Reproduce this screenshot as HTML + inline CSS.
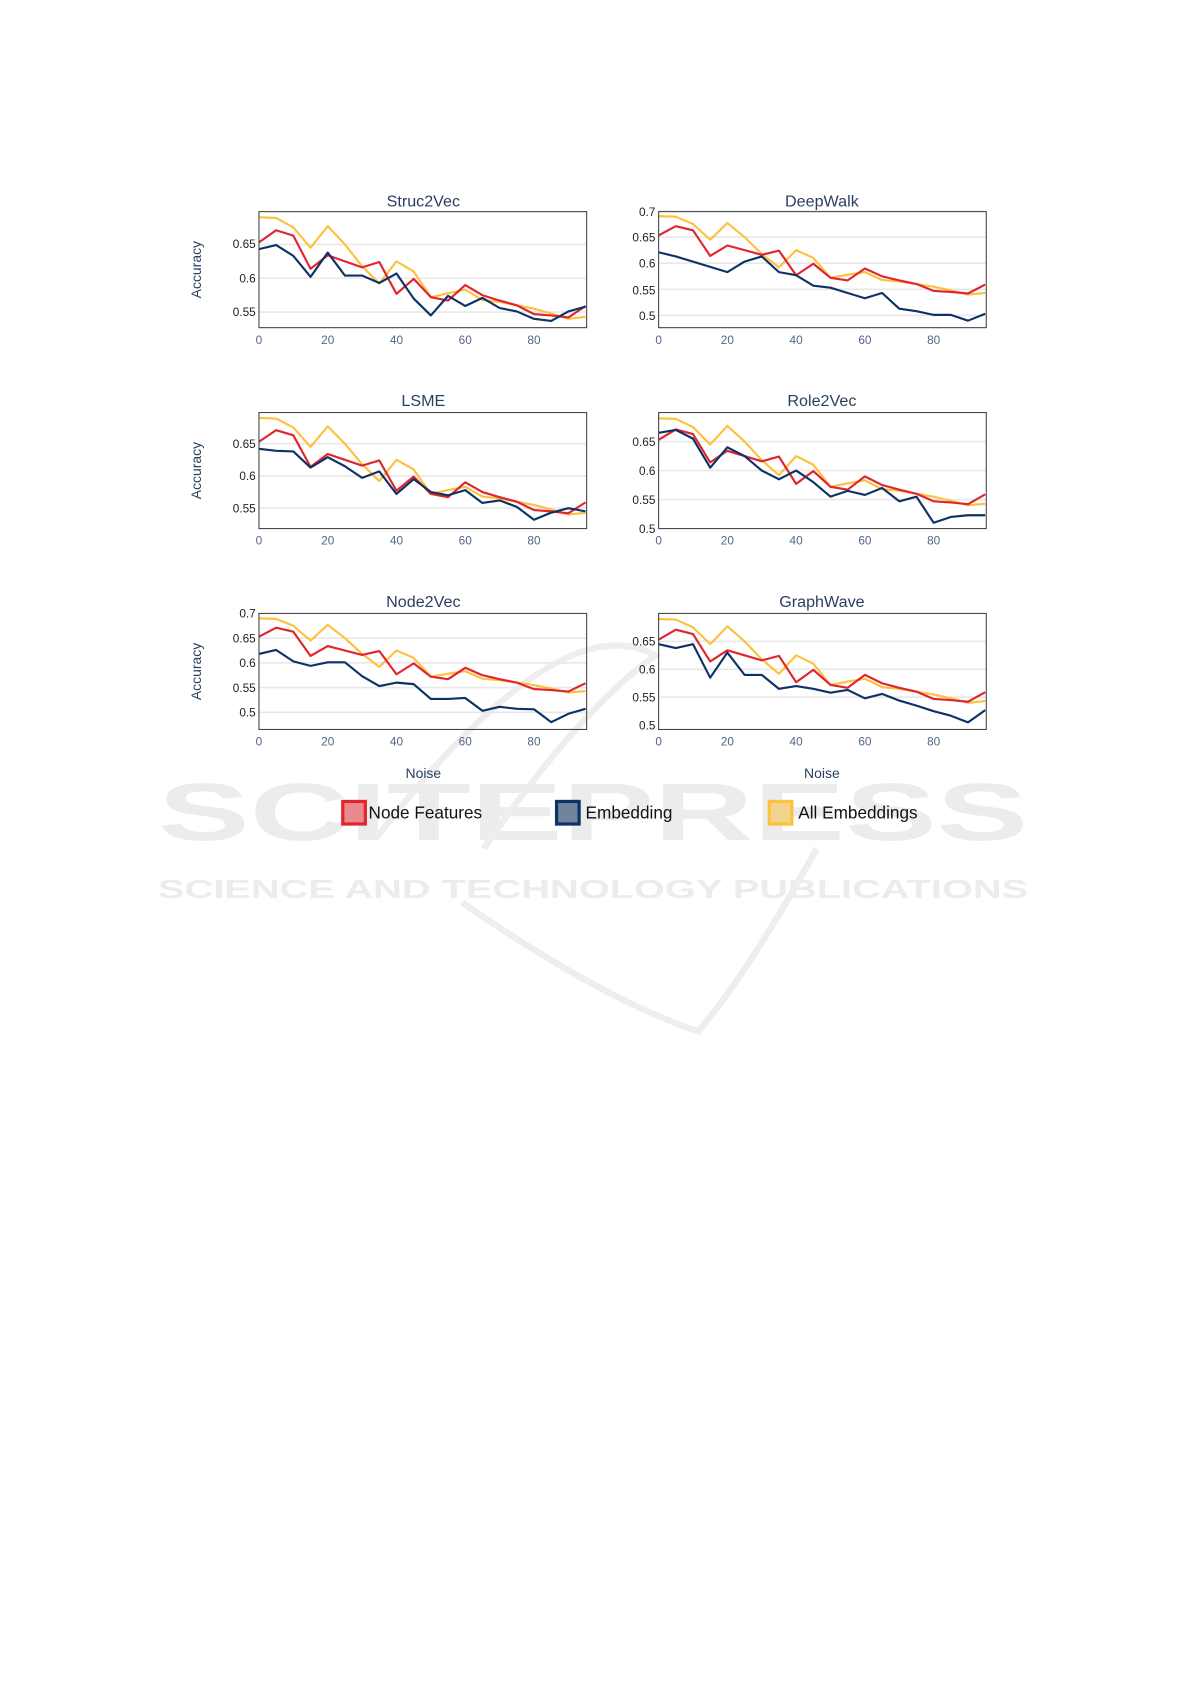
<!DOCTYPE html>
<html><head><meta charset="utf-8"><style>
html,body{margin:0;padding:0;background:#fff;}
svg{display:block;font-family:"Liberation Sans",sans-serif;}
.t{font-size:15px;fill:#2a3f5f;text-anchor:middle}
.xt{font-size:11px;fill:#506784;text-anchor:middle}
.yt{font-size:11px;fill:#222;text-anchor:end}
.ax{font-size:13px;fill:#2a3f5f;text-anchor:middle}
.lg{font-size:16px;fill:#111}
</style></head><body>
<svg id="s" width="1191" height="1684" viewBox="0 0 1108.5 1567.5" xmlns="http://www.w3.org/2000/svg">
<g fill="#ececec" font-weight="bold">
<text x="552" y="782" font-size="76" text-anchor="middle" textLength="810" lengthAdjust="spacingAndGlyphs">SCITEPRESS</text>
<text x="552" y="836" font-size="24" text-anchor="middle" textLength="810" lengthAdjust="spacingAndGlyphs">SCIENCE AND TECHNOLOGY PUBLICATIONS</text>
</g>
<path d="M350 780 Q520 560 610 610 Q540 660 450 790 M430 840 Q560 930 650 960 Q700 900 760 790" fill="none" stroke="#eeeeee" stroke-width="6"/>
<g id="plots"></g>
<text class="t" x="394" y="192">Struc2Vec</text>
<text class="t" x="765" y="192">DeepWalk</text>
<text class="t" x="394" y="378">LSME</text>
<text class="t" x="765" y="378">Role2Vec</text>
<text class="t" x="394" y="565">Node2Vec</text>
<text class="t" x="765" y="565">GraphWave</text>
<g class="xt">
<text x="241" y="320">0</text><text x="305" y="320">20</text><text x="369" y="320">40</text><text x="433" y="320">60</text><text x="497" y="320">80</text>
<text x="613" y="320">0</text><text x="677" y="320">20</text><text x="741" y="320">40</text><text x="805" y="320">60</text><text x="869" y="320">80</text>
<text x="241" y="507">0</text><text x="305" y="507">20</text><text x="369" y="507">40</text><text x="433" y="507">60</text><text x="497" y="507">80</text>
<text x="613" y="507">0</text><text x="677" y="507">20</text><text x="741" y="507">40</text><text x="805" y="507">60</text><text x="869" y="507">80</text>
<text x="241" y="694">0</text><text x="305" y="694">20</text><text x="369" y="694">40</text><text x="433" y="694">60</text><text x="497" y="694">80</text>
<text x="613" y="694">0</text><text x="677" y="694">20</text><text x="741" y="694">40</text><text x="805" y="694">60</text><text x="869" y="694">80</text>
</g>
<g class="yt">
<text x="238" y="231">0.65</text><text x="238" y="263">0.6</text><text x="238" y="294">0.55</text>
<text x="610" y="201">0.7</text><text x="610" y="225">0.65</text><text x="610" y="249">0.6</text><text x="610" y="274">0.55</text><text x="610" y="298">0.5</text>
<text x="238" y="417">0.65</text><text x="238" y="447">0.6</text><text x="238" y="477">0.55</text>
<text x="610" y="415">0.65</text><text x="610" y="442">0.6</text><text x="610" y="469">0.55</text><text x="610" y="496">0.5</text>
<text x="238" y="575">0.7</text><text x="238" y="598">0.65</text><text x="238" y="621">0.6</text><text x="238" y="644">0.55</text><text x="238" y="667">0.5</text>
<text x="610" y="601">0.65</text><text x="610" y="627">0.6</text><text x="610" y="653">0.55</text><text x="610" y="679">0.5</text>
</g>
<g class="ax">
<text transform="translate(187,251) rotate(-90)">Accuracy</text>
<text transform="translate(187,438) rotate(-90)">Accuracy</text>
<text transform="translate(187,625) rotate(-90)">Accuracy</text>
<text x="394" y="724">Noise</text><text x="765" y="724">Noise</text>
</g>
<rect x="319" y="746" width="21" height="21" fill="#e88a90" stroke="#e0252f" stroke-width="3"/>
<text class="lg" x="343" y="762">Node Features</text>
<rect x="518" y="746" width="21" height="21" fill="#71849b" stroke="#0d3366" stroke-width="3"/>
<text class="lg" x="545" y="762">Embedding</text>
<rect x="716" y="746" width="21" height="21" fill="#f2d38e" stroke="#fdc13c" stroke-width="3"/>
<text class="lg" x="743" y="762">All Embeddings</text>
</svg>
<script>
var Y=[0.69,0.689,0.675,0.645,0.677,0.65,0.618,0.592,0.625,0.61,0.572,0.578,0.583,0.568,0.565,0.56,0.555,0.548,0.54,0.543];
var R=[0.653,0.671,0.663,0.614,0.634,0.625,0.616,0.624,0.577,0.599,0.572,0.567,0.59,0.575,0.567,0.56,0.547,0.545,0.542,0.559];
var P=[
{x:241,t:197,y6:259,k:630,ticks:[0.65,0.6,0.55],b:[0.643,0.649,0.633,0.602,0.638,0.604,0.604,0.593,0.607,0.57,0.545,0.574,0.559,0.571,0.556,0.551,0.54,0.537,0.551,0.558]},
{x:613,t:197,y6:245,k:486,ticks:[0.7,0.65,0.6,0.55,0.5],b:[0.621,0.613,0.603,0.593,0.583,0.603,0.613,0.583,0.577,0.557,0.553,0.543,0.533,0.543,0.513,0.508,0.501,0.501,0.49,0.503,0.505]},
{x:241,t:384,y6:443,k:600,ticks:[0.65,0.6,0.55],b:[0.642,0.639,0.638,0.613,0.629,0.615,0.597,0.607,0.572,0.595,0.575,0.57,0.578,0.558,0.562,0.552,0.532,0.543,0.55,0.545]},
{x:613,t:384,y6:438,k:540,ticks:[0.65,0.6,0.55],b:[0.665,0.67,0.655,0.605,0.64,0.625,0.6,0.585,0.6,0.58,0.555,0.565,0.558,0.57,0.547,0.555,0.51,0.52,0.523,0.523]},
{x:241,t:571,y6:617,k:460,ticks:[0.65,0.6,0.55,0.5],b:[0.618,0.626,0.603,0.594,0.601,0.601,0.573,0.553,0.56,0.557,0.527,0.527,0.529,0.503,0.511,0.507,0.506,0.48,0.497,0.507]},
{x:613,t:571,y6:623,k:520,ticks:[0.65,0.6,0.55],b:[0.645,0.638,0.645,0.585,0.63,0.59,0.59,0.565,0.57,0.565,0.558,0.563,0.548,0.556,0.544,0.535,0.525,0.517,0.505,0.527]}];
var NS="http://www.w3.org/2000/svg",g=document.getElementById("plots");
function el(n,a){var e=document.createElementNS(NS,n);for(var k in a)e.setAttribute(k,a[k]);g.appendChild(e);return e;}
P.forEach(function(p){
 function yy(v){return p.y6+(0.6-v)*p.k;}
 p.ticks.forEach(function(v){el("line",{x1:p.x,x2:p.x+305,y1:yy(v),y2:yy(v),stroke:"#e8e8e8","stroke-width":1.5});});
 [[Y,"#fdc13c"],[R,"#e0252f"],[p.b.slice(0,20),"#0d3366"]].forEach(function(s){
  var pts=s[0].map(function(v,i){return (p.x+i*5*3.2).toFixed(1)+","+Math.min(p.t+108,yy(v)).toFixed(1);}).join(" ");
  el("polyline",{points:pts,fill:"none",stroke:s[1],"stroke-width":2,"stroke-linejoin":"round"});
 });
 el("rect",{x:p.x,y:p.t,width:305,height:108,fill:"none",stroke:"#444","stroke-width":1});
});
</script>
</body></html>
